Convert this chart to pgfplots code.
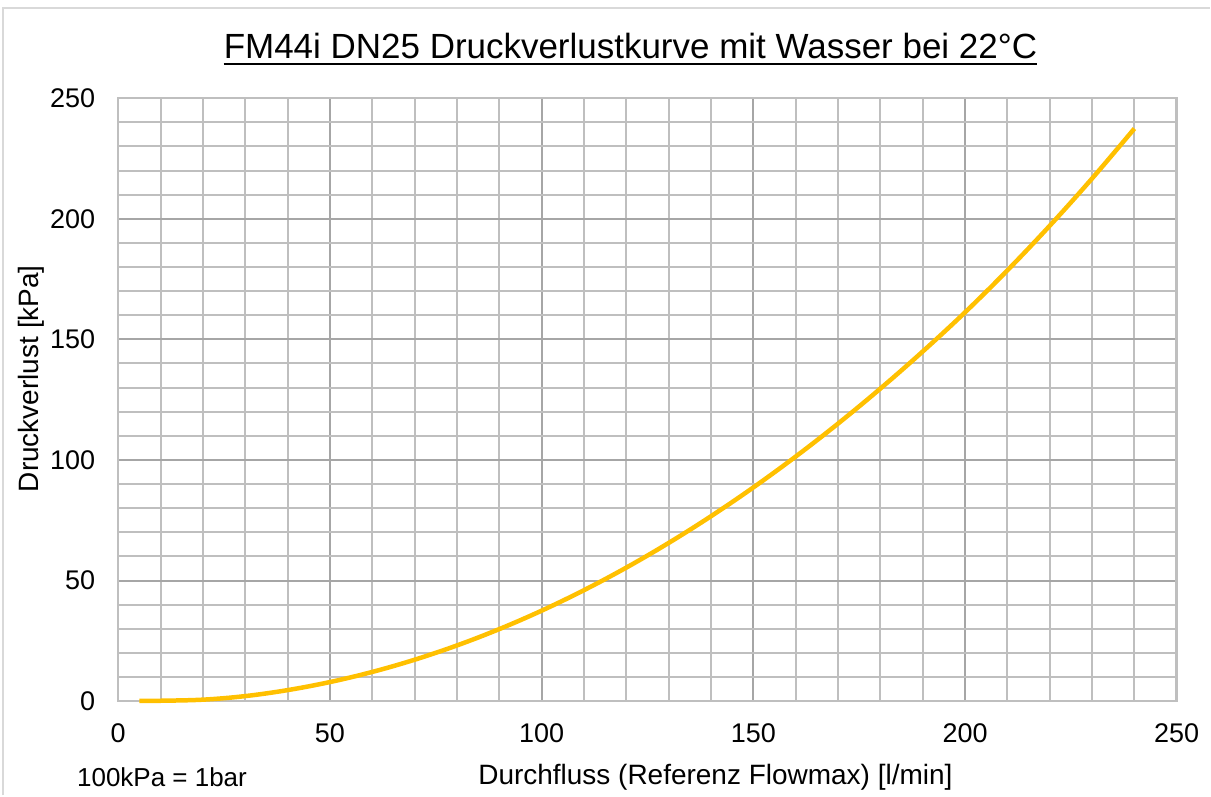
\documentclass[border=0pt]{standalone}
\usepackage{pgfplots}
\pgfplotsset{compat=1.18}
\usepackage{fontspec}
\setmainfont{Liberation Sans}
\definecolor{curve}{HTML}{FFC000}
\definecolor{majg}{HTML}{A6A6A6}
\definecolor{ming}{HTML}{BFBFBF}
\definecolor{frameg}{HTML}{D9D9D9}
\pgfplotstableread{
x y
5 0.05
10 0.15
20 0.6
30 2.08
40 4.56
50 7.9
60 12.1
70 17.16
80 23.08
90 29.86
100 37.5
110 46.0
120 55.36
130 65.58
140 76.66
150 88.6
160 101.4
170 115.06
180 129.58
190 144.96
200 161.2
210 178.6
220 197.1
230 216.7
240 237.4
}\datatable
\begin{document}
\begin{tikzpicture}[x=1pt,y=1pt]
\path (0,0) rectangle (1211,796);
\draw[frameg, line width=2pt] (3,0) -- (3,788) -- (1211,788);
\begin{axis}[
  at={(118.3pt,94.3pt)}, anchor=south west,
  width=1059.4pt, height=603.4pt, scale only axis,
  xmin=0, xmax=250, ymin=0, ymax=250,
  xtick={0,50,...,250}, ytick={0,50,...,250},
  minor xtick={10,20,...,240}, minor ytick={10,20,...,240},
  grid=both,
  major grid style={color=majg, line width=2pt},
  minor grid style={color=ming, line width=2pt},
  axis line style={color=ming, line width=2.5pt},
  tick style={draw=none},
  /pgf/number format/assume math mode=true,
  ticklabel style={font=\fontsize{27}{30}\selectfont},
  yticklabel style={anchor=east, inner sep=0pt, xshift=-23pt},
  xticklabel style={anchor=north, inner sep=0pt, yshift=-22pt},
  clip=false,
]
\addplot[color=curve, line width=4.5pt, smooth, tension=0.6] table[x=x,y=y] {\datatable};
\end{axis}
\node[anchor=base, inner sep=0pt, font=\fontsize{35}{40}\selectfont] (t) at (631,737) {FM44i DN25 Druckverlustkurve mit Wasser bei 22°C};
\draw[line width=2.5pt] ([yshift=-5pt]t.base west) -- ([yshift=-5pt]t.base east);
\node[anchor=base, inner sep=0pt, font=\fontsize{28}{32}\selectfont] at (716,11) {Durchfluss (Referenz Flowmax) [l/min]};
\node[anchor=base west, inner sep=0pt, font=\fontsize{26}{30}\selectfont] at (77,9) {100kPa = 1bar};
\node[anchor=base, rotate=90, inner sep=0pt, font=\fontsize{28}{32}\selectfont] at (39,417) {Druckverlust [kPa]};
\end{tikzpicture}
\end{document}
